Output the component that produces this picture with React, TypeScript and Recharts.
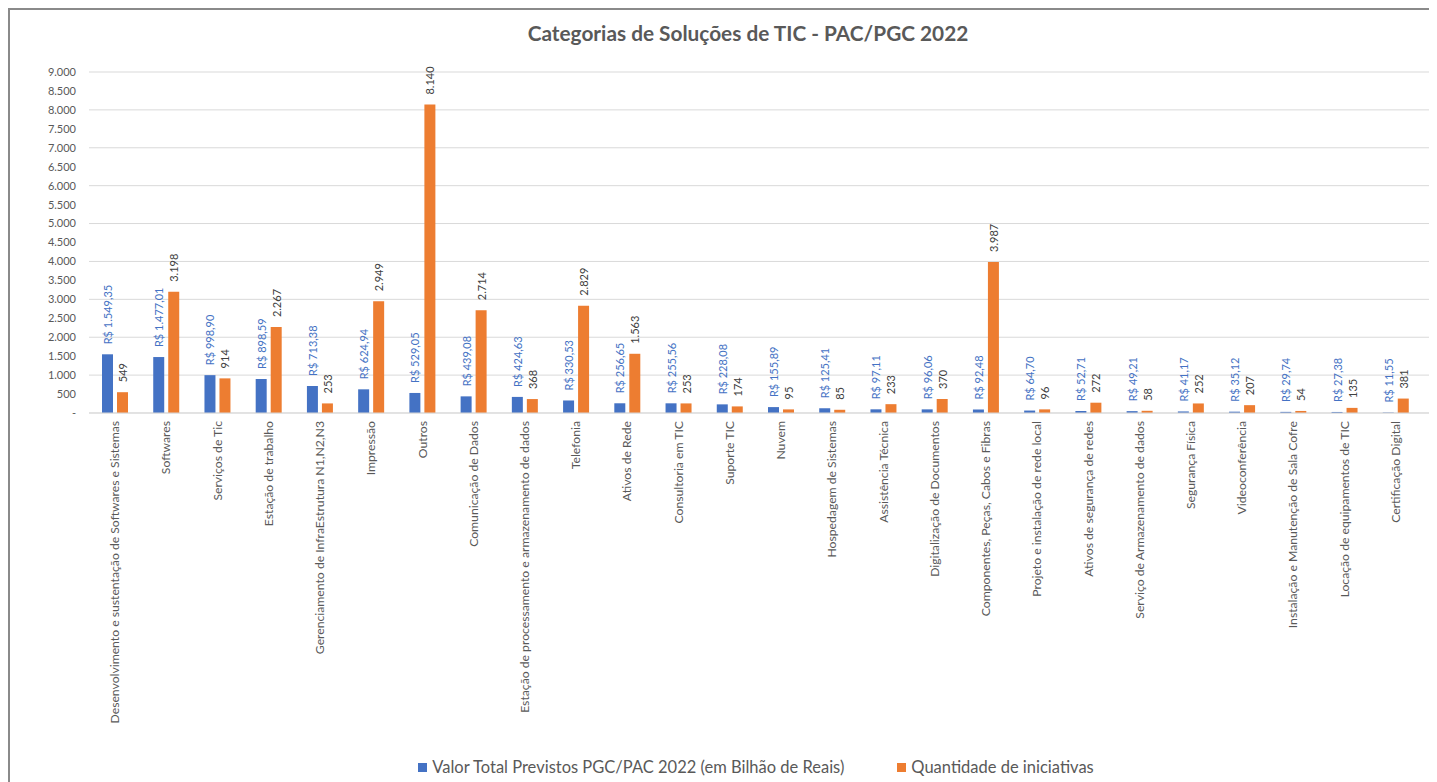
import { Bar, BarChart, CartesianGrid, LabelList, Legend, XAxis, YAxis } from "recharts";

// Categorias de Soluções de TIC - PAC/PGC 2022
const categorias = [
  "Desenvolvimento e sustentação de Softwares e Sistemas",
  "Softwares",
  "Serviços de Tic",
  "Estação de trabalho",
  "Gerenciamento de InfraEstrutura N1,N2,N3",
  "Impressão",
  "Outros",
  "Comunicação de Dados",
  "Estação de processamento e armazenamento de dados",
  "Telefonia",
  "Ativos de Rede",
  "Consultoria em TIC",
  "Suporte TIC",
  "Nuvem",
  "Hospedagem de Sistemas",
  "Assistência Técnica",
  "Digitalização de Documentos",
  "Componentes, Peças, Cabos e Fibras",
  "Projeto e instalação de rede local",
  "Ativos de segurança de redes",
  "Serviço de Armazenamento de dados",
  "Segurança Física",
  "Videoconferência",
  "Instalação e Manutenção de Sala Cofre",
  "Locação de equipamentos de TIC",
  "Certificação Digital",
];

const valores = [
  1549.35, 1477.01, 998.9, 898.59, 713.38, 624.94, 529.05, 439.08, 424.63, 330.53, 256.65, 255.56,
  228.08, 155.89, 125.41, 97.11, 96.06, 92.48, 64.7, 52.71, 49.21, 41.17, 35.12, 29.74, 27.38, 11.55,
];

const quantidades = [
  549, 3198, 914, 2267, 253, 2949, 8140, 2714, 368, 2829, 1563, 253, 174, 95, 85, 233, 370, 3987, 96,
  272, 58, 252, 207, 54, 135, 381,
];

const yTicks = [0, 500, 1000, 1500, 2000, 2500, 3000, 3500, 4000, 4500, 5000, 5500, 6000, 6500, 7000, 7500, 8000, 8500, 9000];

const SERIE_VALOR = "Valor Total Previstos PGC/PAC 2022 (em Bilhão de Reais)";
const SERIE_QTD = "Quantidade de iniciativas";
const ORDEM_LEGENDA = [SERIE_VALOR, SERIE_QTD];

const BLUE = "#4472C4";
const ORANGE = "#ED7D31";
const TEXT = "#595959";
const GRID = "#D9D9D9";
const FONT = "Lato, 'Open Sans', sans-serif";

const data = categorias.map((nome, i) => ({
  nome,
  valor: valores[i],
  qtd: quantidades[i],
}));

const milhar = (s: string | number) => String(s).replace(/\B(?=(\d{3})+(?!\d))/g, ".");

const fmtReal = (v: number) => {
  const [inteiro, dec] = v.toFixed(2).split(".");
  return `R$ ${milhar(inteiro)},${dec}`;
};

const fmtTick = (v: number) => (v === 0 ? "-" : milhar(v));

function XTick({ x, y, payload }: any) {
  return (
    <text
      x={x}
      y={y}
      transform={`rotate(-90, ${x}, ${y})`}
      textAnchor="end"
      dominantBaseline="central"
      fontSize={12.2}
      fontFamily={FONT}
      fill={TEXT}
    >
      {payload.value}
    </text>
  );
}

// rotated value label sitting above each bar
const barLabel = (color: string, fmt: (v: number) => string) =>
  function Label(props: any) {
    const { x, y, width, value } = props;
    const cx = Number(x) + Number(width) / 2;
    const ty = Number(y) - 10;
    return (
      <text
        x={cx}
        y={ty}
        transform={`rotate(-90, ${cx}, ${ty})`}
        textAnchor="start"
        dominantBaseline="central"
        fontSize={11}
        fontFamily={FONT}
        fill={color}
      >
        {fmt(Number(value))}
      </text>
    );
  };

function LegendBox({ payload }: any) {
  const items = [...(payload || [])].sort(
    (a: any, b: any) => ORDEM_LEGENDA.indexOf(a.value) - ORDEM_LEGENDA.indexOf(b.value)
  );
  return (
    <div
      style={{
        display: "flex",
        justifyContent: "center",
        alignItems: "center",
        gap: 53,
        paddingLeft: 72,
        height: 30,
        fontFamily: FONT,
        fontSize: 16.5,
        color: TEXT,
      }}
    >
      {items.map((item: any) => (
        <div key={item.value} style={{ display: "flex", alignItems: "center" }}>
          <span style={{ width: 9, height: 9, background: item.color, marginRight: 5, display: "inline-block" }} />
          {item.value}
        </div>
      ))}
    </div>
  );
}

export default function App() {
  return (
    <div
      style={{
        position: "relative",
        width: 1422,
        height: 774,
        borderTop: "2px solid #8a8a8a",
        borderLeft: "2px solid #8a8a8a",
        background: "#fff",
        boxSizing: "border-box",
      }}
    >
      <div
        style={{
          position: "absolute",
          top: 10,
          left: 0,
          width: 1476,
          textAlign: "center",
          fontFamily: FONT,
          fontWeight: 700,
          fontSize: 20.8,
          color: TEXT,
        }}
      >
        Categorias de Soluções de TIC - PAC/PGC 2022
      </div>
      <BarChart
        width={1420}
        height={772}
        data={data}
        margin={{ top: 62, right: 0, bottom: 0, left: 0 }}
        barSize={11}
        barGap={4}
      >
        <CartesianGrid vertical={false} stroke={GRID} />
        <XAxis
          dataKey="nome"
          interval={0}
          tickLine={false}
          axisLine={{ stroke: GRID }}
          height={339}
          tick={<XTick />}
          padding={{ left: 0, right: 9 }}
        />
        <YAxis
          width={79}
          domain={[0, 9000]}
          ticks={yTicks}
          tickFormatter={fmtTick}
          axisLine={false}
          tickLine={false}
          tickMargin={7}
          tick={{ fontSize: 11, fontFamily: FONT, fill: TEXT }}
        />
        <Legend verticalAlign="bottom" height={30} content={<LegendBox />} />
        <Bar dataKey="valor" name={SERIE_VALOR} fill={BLUE} isAnimationActive={false}>
          <LabelList dataKey="valor" content={barLabel(BLUE, fmtReal)} />
        </Bar>
        <Bar dataKey="qtd" name={SERIE_QTD} fill={ORANGE} isAnimationActive={false}>
          <LabelList dataKey="qtd" content={barLabel("#404040", (v) => milhar(v))} />
        </Bar>
      </BarChart>
    </div>
  );
}
